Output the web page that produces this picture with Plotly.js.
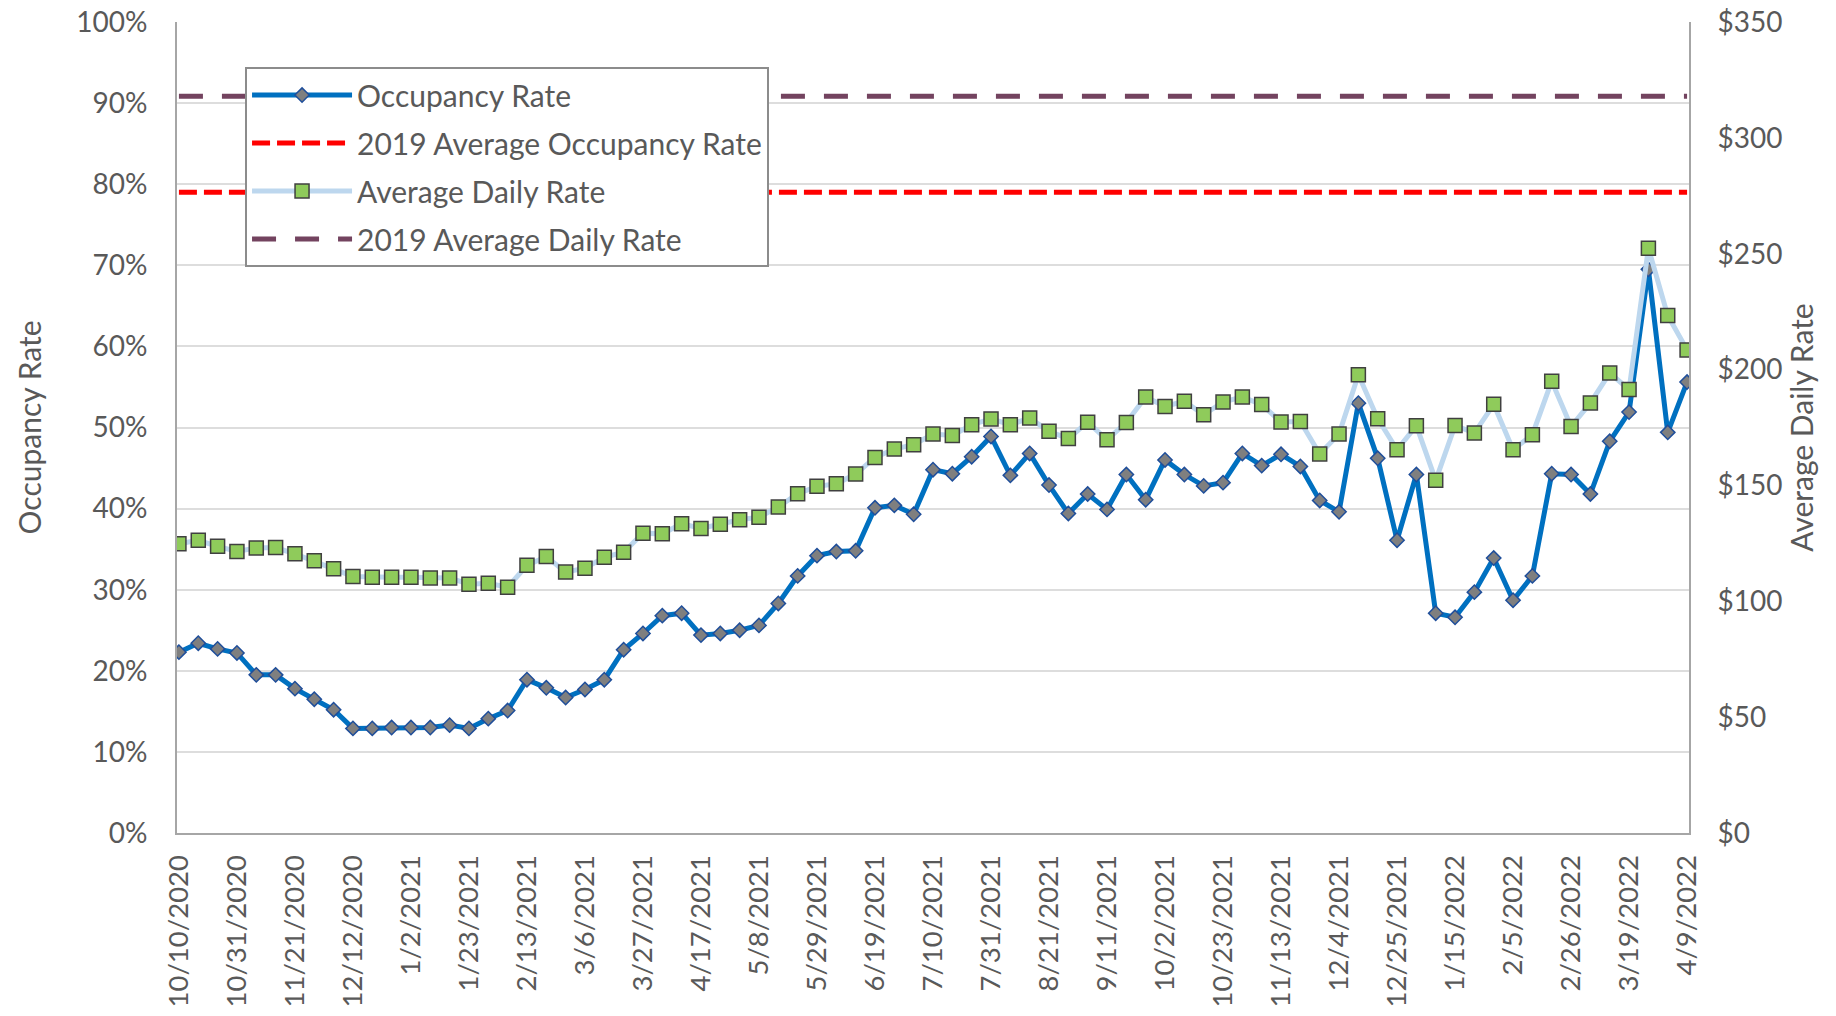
<!DOCTYPE html>
<html>
<head>
<meta charset="utf-8">
<script src="https://cdn.plot.ly/plotly-3.0.1.min.js"></script>
<style>html,body{margin:0;padding:0;background:#fff;}#chart{width:1836px;height:1016px;}</style>
</head>
<body>
<div id="chart"></div>
<script>
const weeks = [
 "10/10/2020","10/17/2020","10/24/2020","10/31/2020","11/7/2020","11/14/2020","11/21/2020","11/28/2020","12/5/2020","12/12/2020","12/19/2020","12/26/2020",
 "1/2/2021","1/9/2021","1/16/2021","1/23/2021","1/30/2021","2/6/2021","2/13/2021","2/20/2021","2/27/2021","3/6/2021","3/13/2021","3/20/2021","3/27/2021","4/3/2021","4/10/2021","4/17/2021","4/24/2021","5/1/2021","5/8/2021","5/15/2021","5/22/2021","5/29/2021","6/5/2021","6/12/2021","6/19/2021","6/26/2021","7/3/2021","7/10/2021","7/17/2021","7/24/2021","7/31/2021","8/7/2021","8/14/2021","8/21/2021","8/28/2021","9/4/2021","9/11/2021","9/18/2021","9/25/2021","10/2/2021","10/9/2021","10/16/2021","10/23/2021","10/30/2021","11/6/2021","11/13/2021","11/20/2021","11/27/2021","12/4/2021","12/11/2021","12/18/2021","12/25/2021",
 "1/1/2022","1/8/2022","1/15/2022","1/22/2022","1/29/2022","2/5/2022","2/12/2022","2/19/2022","2/26/2022","3/5/2022","3/12/2022","3/19/2022","3/26/2022","4/2/2022","4/9/2022"
];

const tickLabels = ["10/10/2020","10/31/2020","11/21/2020","12/12/2020","1/2/2021","1/23/2021","2/13/2021","3/6/2021","3/27/2021","4/17/2021","5/8/2021","5/29/2021","6/19/2021","7/10/2021","7/31/2021","8/21/2021","9/11/2021","10/2/2021","10/23/2021","11/13/2021","12/4/2021","12/25/2021","1/15/2022","2/5/2022","2/26/2022","3/19/2022","4/9/2022"];

const occupancyRate = [
 0.223,0.234,0.227,0.222,0.195,0.195,0.178,0.165,0.152,0.129,0.129,0.130,
 0.130,0.130,0.133,0.129,0.141,0.151,0.189,0.179,0.167,0.177,0.189,0.226,0.246,0.268,0.271,0.244,0.246,0.250,0.256,0.283,0.317,0.342,0.347,0.348,0.401,0.404,0.393,0.448,0.443,0.464,0.489,0.441,0.468,0.429,0.394,0.418,0.399,0.442,0.411,0.460,0.442,0.428,0.432,0.468,0.453,0.467,0.452,0.410,0.396,0.530,0.462,0.361,
 0.442,0.271,0.266,0.297,0.339,0.287,0.317,0.443,0.442,0.418,0.483,0.519,0.695,0.494,0.556
];

const averageDailyRate = [
 124.8,126.3,123.7,121.5,123.0,123.2,120.5,117.5,114.0,110.7,110.4,110.4,
 110.4,110.1,110.1,107.4,107.8,106.1,115.5,119.3,112.6,114.3,119.0,121.2,129.4,129.1,133.5,131.4,133.2,135.2,136.3,140.7,146.4,149.6,150.7,154.9,162.1,165.7,167.6,172.2,171.6,176.2,178.7,176.2,179.1,173.4,170.2,177.3,169.7,177.2,188.2,184.1,186.3,180.5,186.0,188.2,184.9,177.4,177.6,163.6,172.2,197.8,178.8,165.4,
 175.8,152.2,175.9,172.6,185.0,165.4,171.9,195.0,175.4,185.6,198.5,191.4,252.4,223.3,208.5
];

const avgOccupancy2019 = 0.79;
const avgDailyRate2019 = 318;

const textColor = "#595959";
const fontFamily = "Lato, 'Open Sans', sans-serif";

const traces = [
 {
  x: weeks, y: occupancyRate, name: "Occupancy Rate", type: "scatter", mode: "lines+markers",
  yaxis: "y", legendgroup: "a",
  line: {color: "#0070C0", width: 5},
  marker: {symbol: "diamond", size: 11, color: "#7F7F7F", line: {color: "#1F4E9A", width: 1.5}}
 },
 {
  x: weeks, y: weeks.map(() => avgOccupancy2019), name: "2019 Average Occupancy Rate", type: "scatter", mode: "lines",
  yaxis: "y", legendgroup: "b",
  line: {color: "#FF0000", width: 5, dash: "18px,7px"}
 },
 {
  x: weeks, y: averageDailyRate, name: "Average Daily Rate", type: "scatter", mode: "lines+markers",
  yaxis: "y2", legendgroup: "c",
  line: {color: "#BDD7EE", width: 5},
  marker: {symbol: "square", size: 14, color: "#8FCB5B", line: {color: "#404040", width: 1.5}}
 },
 {
  x: weeks, y: weeks.map(() => avgDailyRate2019), name: "2019 Average Daily Rate", type: "scatter", mode: "lines",
  yaxis: "y2", legendgroup: "d",
  line: {color: "#73435F", width: 5, dash: "24px,19px"}
 }
];

const layout = {
 width: 1836, height: 1016,
 margin: {l: 177, r: 147, t: 22, b: 183, pad: 0},
 paper_bgcolor: "#ffffff", plot_bgcolor: "#ffffff",
 font: {family: fontFamily, size: 28, color: textColor},
 showlegend: true,
 legend: {
  x: 0.045, y: 0.9445, xanchor: "left", yanchor: "top",
  bgcolor: "#ffffff", bordercolor: "#8C8C8C", borderwidth: 2,
  font: {family: fontFamily, size: 30, color: textColor},
  traceorder: "grouped", tracegroupgap: 6, itemwidth: 100
 },
 xaxis: {
  type: "category", range: [-0.1, 78.1],
  tickmode: "array", tickvals: tickLabels, ticktext: tickLabels,
  tickangle: -90, showgrid: false, zeroline: false,
  showline: true, linecolor: "#A6A6A6", linewidth: 2,
  ticks: "", ticklabelstandoff: 9,
  tickfont: {family: fontFamily, size: 27.5, color: textColor}
 },
 yaxis: {
  range: [0, 1], dtick: 0.1, tickformat: ".0%",
  showgrid: true, gridcolor: "#DDDDDD", gridwidth: 2,
  zeroline: false, showline: true, linecolor: "#A6A6A6", linewidth: 2,
  ticks: "", ticklabelstandoff: 22,
  tickfont: {family: fontFamily, size: 28, color: textColor},
  title: {text: "Occupancy Rate", standoff: 26, font: {family: fontFamily, size: 30, color: textColor}}
 },
 yaxis2: {
  range: [0, 350], dtick: 50, tickprefix: "$",
  overlaying: "y", side: "right", showgrid: false, zeroline: false,
  showline: true, linecolor: "#A6A6A6", linewidth: 2,
  ticks: "", ticklabelstandoff: 21,
  tickfont: {family: fontFamily, size: 28, color: textColor},
  title: {text: "Average Daily Rate", standoff: 4, font: {family: fontFamily, size: 30, color: textColor}}
 }
};

Plotly.newPlot("chart", traces, layout, {displayModeBar: false, staticPlot: true});
</script>
</body>
</html>
